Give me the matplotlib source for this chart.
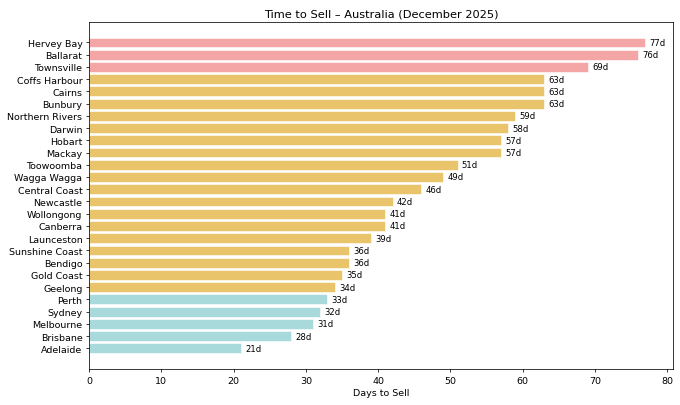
import matplotlib
matplotlib.use("Agg")
import matplotlib.pyplot as plt

cities = ["Hervey Bay", "Ballarat", "Townsville", "Coffs Harbour", "Cairns", "Bunbury",
          "Northern Rivers", "Darwin", "Hobart", "Mackay", "Toowoomba", "Wagga Wagga",
          "Central Coast", "Newcastle", "Wollongong", "Canberra", "Launceston",
          "Sunshine Coast", "Bendigo", "Gold Coast", "Geelong", "Perth", "Sydney",
          "Melbourne", "Brisbane", "Adelaide"]
days = [77, 76, 69, 63, 63, 63, 59, 58, 57, 57, 51, 49, 46, 42, 41, 41, 39, 36, 36, 35, 34,
        33, 32, 31, 28, 21]
groups = ["slow"] * 3 + ["mid"] * 18 + ["fast"] * 5
palette = {"slow": "#F4A6A6", "mid": "#E9C46A", "fast": "#A8DADC"}

fig, ax = plt.subplots(figsize=(10, 5.97), dpi=68)
colors = [palette[g] for g in groups]
ypos = list(range(len(cities)))
ax.barh(ypos, days, color=colors, edgecolor="white", linewidth=0.6)
ax.set_yticks(ypos)
ax.set_yticklabels(cities)
ax.invert_yaxis()
ax.set_xlim(0, max(days) * 1.05)
for y, v in zip(ypos, days):
    ax.text(v + 0.6, y, f"{v}d", va="center", ha="left", fontsize=9)
ax.set_xlabel("Days to Sell")
ax.set_title("Time to Sell – Australia (December 2025)")
fig.subplots_adjust(left=0.131, right=0.990, top=0.944, bottom=0.0887)
fig.savefig("out.png", dpi=68)
